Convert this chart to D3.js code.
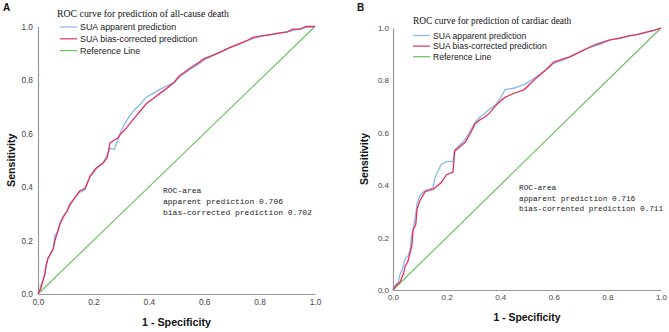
<!DOCTYPE html>
<html>
<head>
<meta charset="utf-8">
<script src="https://cdn.jsdelivr.net/npm/d3@7"></script>
<style>
  body { margin: 0; background: #fff; }
  svg { display: block; }
</style>
</head>
<body>
<svg id="chart" width="669" height="332"></svg>
<script>
// ---------- DATA ----------
const tickValues = [0, 0.2, 0.4, 0.6, 0.8, 1.0];
const legendLabels = ["SUA apparent prediction", "SUA bias-corrected prediction", "Reference Line"];

// Panel A: all-cause death
const titleA = "ROC curve for prediction of all-cause death";
const areaTextA = ["ROC-area", "apparent prediction 0.706", "bias-corrected prediction 0.702"];
const fprA = [0, .01, .018, .025, .03, .036, .045, .055, .061, .07, .079, .09, .105, .115, .126, .14, .15, .17, .18, .188, .2, .21, .235, .25, .26, .275, .29, .296, .31, .33, .35, .37, .39, .415, .44, .46, .49, .51, .53, .55, .58, .6, .63, .66, .69, .72, .75, .777, .81, .84, .87, .9, .92, .946, .97, 1];
const apparentA = [0, .03, .05, .08, .11, .13, .15, .165, .22, .23, .265, .29, .31, .33, .35, .37, .38, .39, .42, .44, .46, .47, .49, .52, .545, .54, .58, .60, .63, .665, .69, .71, .735, .75, .765, .775, .79, .81, .825, .84, .86, .875, .89, .905, .92, .93, .945, .955, .965, .97, .975, .98, .985, .99, .998, 1];
const correctedA = [0, .02, .05, .075, .11, .135, .15, .17, .2, .23, .26, .285, .31, .335, .35, .37, .385, .395, .42, .44, .455, .47, .49, .51, .565, .575, .585, .595, .61, .635, .66, .685, .71, .73, .75, .765, .79, .815, .83, .845, .865, .88, .892, .905, .92, .933, .945, .96, .965, .97, .975, .98, .99, .99, 1, 1];

// Panel B: cardiac death
const titleB = "ROC curve for prediction of cardiac death";
const areaTextB = ["ROC-area", "apparent prediction 0.716", "bias-corrented prediction 0.711"];
const fprB = [0, .01, .02, .026, .034, .04, .045, .056, .063, .07, .075, .085, .09, .10, .12, .15, .157, .18, .2, .224, .23, .27, .29, .306, .325, .343, .36, .38, .40, .418, .45, .49, .53, .57, .60, .63, .66, .69, .72, .75, .78, .81, .85, .88, .91, .95, .97, 1];
const apparentB = [0, .02, .03, .06, .076, .1, .12, .13, .15, .21, .23, .29, .33, .36, .38, .39, .43, .48, .49, .49, .535, .575, .61, .64, .66, .675, .69, .705, .73, .765, .77, .785, .81, .84, .865, .875, .89, .905, .92, .93, .94, .955, .96, .97, .975, .985, .99, 1];
const correctedB = [0, .015, .025, .03, .05, .065, .09, .11, .14, .165, .23, .25, .31, .34, .375, .385, .39, .41, .44, .45, .53, .565, .6, .635, .65, .66, .675, .70, .72, .735, .75, .765, .805, .84, .87, .88, .89, .905, .92, .935, .945, .955, .962, .97, .975, .985, .99, 1];

// ---------- DRAW ----------
const svg = d3.select("#chart");
const colors = { apparent: "#86b6ef", corrected: "#e5305a", ref: "#6cbd62", axis: "#9a9a9a" };

function drawPanel(p) {
  const g = svg.append("g");
  const x = d3.scaleLinear().domain([0, 1]).range([p.x0, p.x1]);
  const y = d3.scaleLinear().domain([0, 1]).range([p.y0, p.y1]);
  const fmt = d3.format(".1f");

  // axes
  const xAxis = g.append("g").attr("transform", `translate(0,${p.y0})`)
    .call(d3.axisBottom(x).tickValues(tickValues).tickFormat(fmt).tickSize(0).tickPadding(p.xPad));
  const yAxis = g.append("g").attr("transform", `translate(${p.x0},0)`)
    .call(d3.axisLeft(y).tickValues(tickValues).tickFormat(fmt).tickSize(0).tickPadding(p.yPad));
  [xAxis, yAxis].forEach(a => {
    a.select(".domain").attr("stroke", colors.axis).attr("stroke-width", 1.2);
    a.selectAll("text").attr("font-family", "Liberation Sans, Arial, sans-serif")
      .attr("font-size", p.tickFont).attr("fill", "#444");
  });

  // reference line
  g.append("line").attr("x1", x(0)).attr("y1", y(0)).attr("x2", x(1)).attr("y2", y(1))
    .attr("stroke", colors.ref).attr("stroke-width", 1.1);

  const line = d3.line().x(d => x(d[0])).y(d => y(d[1]));
  const blue = p.fpr.map((f, i) => [f, p.apparent[i]]);
  const red = p.fpr.map((f, i) => [f, p.corrected[i]]);
  g.append("path").attr("d", line(blue)).attr("fill", "none").attr("stroke", colors.apparent).attr("stroke-width", 1.3);
  g.append("path").attr("d", line(red)).attr("fill", "none").attr("stroke", colors.corrected).attr("stroke-width", 1.3);

  // axis titles
  g.append("text").attr("x", (p.x0 + p.x1) / 2).attr("y", p.xTitleY).attr("text-anchor", "middle")
    .attr("font-family", "Liberation Sans, Arial, sans-serif").attr("font-weight", "bold")
    .attr("font-size", p.axisFont).attr("fill", "#111").text("1 - Specificity");
  g.append("text").attr("transform", `translate(${p.yTitleX},${(p.y0 + p.y1) / 2}) rotate(-90)`)
    .attr("text-anchor", "middle")
    .attr("font-family", "Liberation Sans, Arial, sans-serif").attr("font-weight", "bold")
    .attr("font-size", p.axisFont).attr("fill", "#111").text("Sensitivity");

  // panel letter
  g.append("text").attr("x", p.letterX).attr("y", 11)
    .attr("font-family", "Liberation Sans, Arial, sans-serif").attr("font-weight", "bold")
    .attr("font-size", 10).attr("fill", "#111").text(p.letter);

  // chart title
  g.append("text").attr("x", p.titleX).attr("y", p.titleY)
    .attr("font-family", "Liberation Serif, Times New Roman, serif")
    .attr("font-size", p.titleFont).attr("fill", "#111").text(p.title);

  // legend
  const legColors = [colors.apparent, colors.corrected, colors.ref];
  legendLabels.forEach((lab, i) => {
    const ly = p.legY + i * p.legStep;
    g.append("line").attr("x1", p.legX).attr("x2", p.legX + 17).attr("y1", ly).attr("y2", ly)
      .attr("stroke", legColors[i]).attr("stroke-width", 1.2);
    g.append("text").attr("x", p.legX + 20).attr("y", ly + 3.2)
      .attr("font-family", "Liberation Sans, Arial, sans-serif")
      .attr("font-size", p.legFont).attr("fill", "#222").text(lab);
  });

  // ROC area text
  p.areaText.forEach((t, i) => {
    g.append("text").attr("x", p.areaX).attr("y", p.areaY + i * p.areaStep)
      .attr("font-family", "Liberation Mono, DejaVu Sans Mono, monospace")
      .attr("font-size", p.areaFont).attr("fill", "#222")
      .style("white-space", "pre").text(t);
  });
}

drawPanel({
  letter: "A", letterX: 3,
  x0: 38, x1: 315, y0: 294, y1: 26.5,
  xPad: 5, yPad: 5, tickFont: 8.3, axisFont: 10.7,
  xTitleY: 326, yTitleX: 15,
  title: titleA, titleX: 57, titleY: 16.5, titleFont: 9.8,
  legX: 60, legY: 27, legStep: 11.8, legFont: 8.9,
  areaText: areaTextA, areaX: 163, areaY: 193, areaStep: 11, areaFont: 8,
  fpr: fprA, apparent: apparentA, corrected: correctedA
});

drawPanel({
  letter: "B", letterX: 357,
  x0: 393, x1: 661, y0: 290, y1: 28,
  xPad: 4, yPad: 4, tickFont: 8, axisFont: 10.4,
  xTitleY: 321, yTitleX: 368,
  title: titleB, titleX: 413, titleY: 24, titleFont: 9.4,
  legX: 413, legY: 35.5, legStep: 10.6, legFont: 8.6,
  areaText: areaTextB, areaX: 519, areaY: 190, areaStep: 10.5, areaFont: 7.75,
  fpr: fprB, apparent: apparentB, corrected: correctedB
});
</script>
</body>
</html>
